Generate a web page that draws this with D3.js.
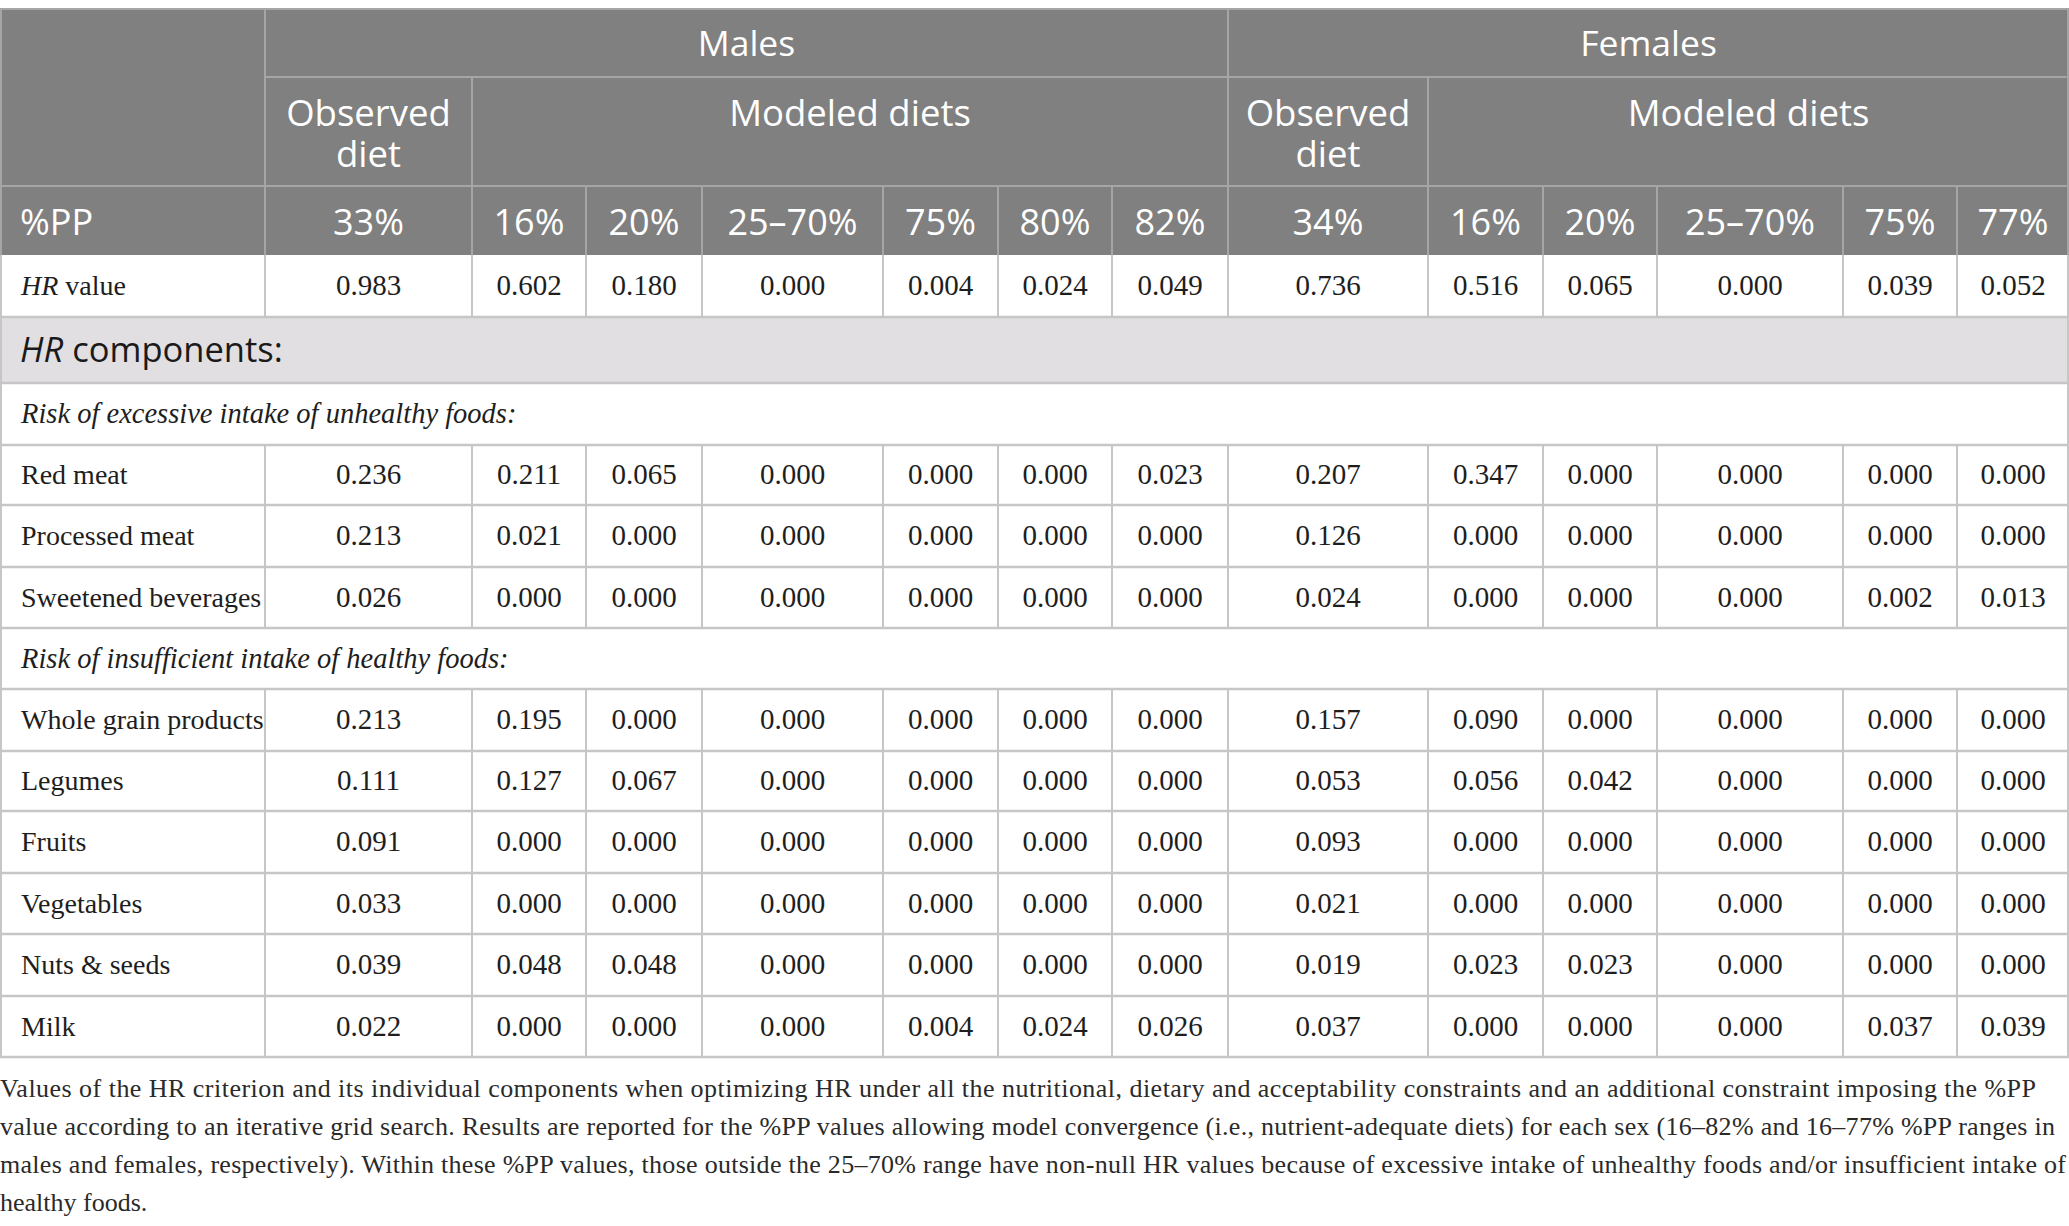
<!DOCTYPE html>
<html>
<head>
    <meta charset="utf-8">
    <title>HR values by %PP</title>
    <script src="https://d3js.org/d3.v7.min.js"></script>
    <style>
        body { margin: 0; background: #fff; }
        .head { font-family: "Open Sans", sans-serif; fill: #fff; }
        .body-text { font-family: "Liberation Serif", serif; fill: #1e1e1e; }
        .caption { font-family: "Liberation Serif", serif; fill: #2a2a2a; }
    </style>
</head>
<body>
    <div id="table"></div>
    <script>
        // 表頭
        const sexGroups = ["Males", "Females"];
        const maleCols = ["33%", "16%", "20%", "25–70%", "75%", "80%", "82%"];
        const femaleCols = ["34%", "16%", "20%", "25–70%", "75%", "77%"];

        // HR 值
        const hrValue = [0.983, 0.602, 0.180, 0.000, 0.004, 0.024, 0.049,
                         0.736, 0.516, 0.065, 0.000, 0.039, 0.052];

        // 不健康食物攝取過量
        const excessiveLabels = ["Red meat", "Processed meat", "Sweetened beverages"];
        const excessiveValues = [
            [0.236, 0.211, 0.065, 0.000, 0.000, 0.000, 0.023, 0.207, 0.347, 0.000, 0.000, 0.000, 0.000],
            [0.213, 0.021, 0.000, 0.000, 0.000, 0.000, 0.000, 0.126, 0.000, 0.000, 0.000, 0.000, 0.000],
            [0.026, 0.000, 0.000, 0.000, 0.000, 0.000, 0.000, 0.024, 0.000, 0.000, 0.000, 0.002, 0.013]
        ];

        // 健康食物攝取不足
        const insufficientLabels = ["Whole grain products", "Legumes", "Fruits", "Vegetables", "Nuts & seeds", "Milk"];
        const insufficientValues = [
            [0.213, 0.195, 0.000, 0.000, 0.000, 0.000, 0.000, 0.157, 0.090, 0.000, 0.000, 0.000, 0.000],
            [0.111, 0.127, 0.067, 0.000, 0.000, 0.000, 0.000, 0.053, 0.056, 0.042, 0.000, 0.000, 0.000],
            [0.091, 0.000, 0.000, 0.000, 0.000, 0.000, 0.000, 0.093, 0.000, 0.000, 0.000, 0.000, 0.000],
            [0.033, 0.000, 0.000, 0.000, 0.000, 0.000, 0.000, 0.021, 0.000, 0.000, 0.000, 0.000, 0.000],
            [0.039, 0.048, 0.048, 0.000, 0.000, 0.000, 0.000, 0.019, 0.023, 0.023, 0.000, 0.000, 0.000],
            [0.022, 0.000, 0.000, 0.000, 0.004, 0.024, 0.026, 0.037, 0.000, 0.000, 0.000, 0.037, 0.039]
        ];

        const captionLines = [
            "Values of the HR criterion and its individual components when optimizing HR under all the nutritional, dietary and acceptability constraints and an additional constraint imposing the %PP",
            "value according to an iterative grid search. Results are reported for the %PP values allowing model convergence (i.e., nutrient-adequate diets) for each sex (16–82% and 16–77% %PP ranges in",
            "males and females, respectively). Within these %PP values, those outside the 25–70% range have non-null HR values because of excessive intake of unhealthy foods and/or insufficient intake of",
            "healthy foods."
        ];

        const W = 2069, H = 1226;
        const headFill = "#7f807f", headLine = "#a4a5a4", bodyLine = "#c6c6c6";
        const fmt = d3.format(".3f");

        const svg = d3.select("#table").append("svg")
            .attr("width", W).attr("height", H);

        // 欄寬（相對比例）-> x 比例尺
        const colWeights = [265, 207, 114, 116, 181, 115, 114, 116, 200, 115, 114, 186, 114, 112];
        const edges = [0, ...d3.cumsum(colWeights)];
        const x = d3.scaleLinear().domain([0, d3.sum(colWeights)]).range([0, W]);
        const colX = i => x(edges[i]);
        const colMid = i => (colX(i) + colX(i + 1)) / 2;

        // 列高 -> y 比例尺
        const rowWeights = [68, 109, 69, 62, 66, 62, 60, 62, 61, 61, 62, 60, 62, 61, 62, 61];
        const rEdges = [0, ...d3.cumsum(rowWeights)];
        const y = d3.scaleLinear().domain([0, d3.sum(rowWeights)]).range([9, 1057]);
        const rowY = i => y(rEdges[i]);
        const rowMid = i => (rowY(i) + rowY(i + 1)) / 2;

        const nCols = colWeights.length;
        const ppCols = [...maleCols, ...femaleCols];

        // ---- 表頭背景 ----
        svg.append("rect")
            .attr("x", 0).attr("y", rowY(0))
            .attr("width", W).attr("height", rowY(3) - rowY(0))
            .attr("fill", headFill);

        const hLines = [
            { x1: colX(0), x2: W, y: rowY(0) },
            { x1: colX(1), x2: W, y: rowY(1) },
            { x1: colX(0), x2: W, y: rowY(2) }
        ];
        svg.selectAll(".hl").data(hLines).enter().append("line")
            .attr("x1", d => d.x1).attr("x2", d => d.x2)
            .attr("y1", d => d.y).attr("y2", d => d.y)
            .attr("stroke", headLine).attr("stroke-width", 2);

        const vLines = [
            { x: colX(0) + 1, y1: rowY(0), y2: rowY(3) },
            { x: colX(1), y1: rowY(0), y2: rowY(3) },
            { x: colX(8), y1: rowY(0), y2: rowY(3) },
            { x: colX(2), y1: rowY(1), y2: rowY(3) },
            { x: colX(9), y1: rowY(1), y2: rowY(3) },
            ...d3.range(3, nCols).filter(i => i !== 8 && i !== 9)
                .map(i => ({ x: colX(i), y1: rowY(2), y2: rowY(3) })),
            { x: W - 1, y1: rowY(0), y2: rowY(3) }
        ];
        svg.selectAll(".vl").data(vLines).enter().append("line")
            .attr("x1", d => d.x).attr("x2", d => d.x)
            .attr("y1", d => d.y1).attr("y2", d => d.y2)
            .attr("stroke", headLine).attr("stroke-width", 2);

        // 性別
        const sexSpans = [[1, 8], [8, nCols]];
        svg.selectAll(".sex").data(sexGroups).enter().append("text")
            .attr("class", "head")
            .attr("x", (d, i) => (colX(sexSpans[i][0]) + colX(sexSpans[i][1])) / 2)
            .attr("y", rowMid(0) + 13)
            .attr("text-anchor", "middle")
            .style("font-size", "35.5px")
            .text(d => d);

        // Observed diet / Modeled diets
        const dietHeads = [
            { lines: ["Observed", "diet"], a: 1, b: 2 },
            { lines: ["Modeled diets"], a: 2, b: 8 },
            { lines: ["Observed", "diet"], a: 8, b: 9 },
            { lines: ["Modeled diets"], a: 9, b: nCols }
        ];
        dietHeads.forEach(h => {
            svg.append("text")
                .attr("class", "head")
                .attr("text-anchor", "middle")
                .style("font-size", "36.5px")
                .selectAll("tspan").data(h.lines).enter().append("tspan")
                .attr("x", (colX(h.a) + colX(h.b)) / 2)
                .attr("y", (d, i) => rowY(1) + 49 + i * 41)
                .text(d => d);
        });

        // %PP 列
        svg.append("text").attr("class", "head")
            .attr("x", 20).attr("y", rowMid(2) + 14)
            .style("font-size", "36px")
            .text("%PP");
        svg.selectAll(".pp").data(ppCols).enter().append("text")
            .attr("class", "head")
            .attr("x", (d, i) => colMid(i + 1))
            .attr("y", rowMid(2) + 14)
            .attr("text-anchor", "middle")
            .style("font-size", "36px")
            .text(d => d);

        // ---- 表身 ----
        const bodyRows = [
            { type: "data", label: [["HR", true], [" value", false]], values: hrValue },
            { type: "section" },
            { type: "sub", text: "Risk of excessive intake of unhealthy foods:" },
            ...excessiveLabels.map((l, i) => ({ type: "data", label: [[l, false]], values: excessiveValues[i] })),
            { type: "sub", text: "Risk of insufficient intake of healthy foods:" },
            ...insufficientLabels.map((l, i) => ({ type: "data", label: [[l, false]], values: insufficientValues[i] }))
        ];

        bodyRows.forEach((r, k) => {
            const ri = k + 3;
            const g = svg.append("g");
            if (r.type === "section") {
                g.append("rect")
                    .attr("x", 0).attr("y", rowY(ri))
                    .attr("width", W).attr("height", rowY(ri + 1) - rowY(ri))
                    .attr("fill", "#e1dfe1");
                const t = g.append("text")
                    .attr("x", 20).attr("y", rowMid(ri) + 12)
                    .style("font-family", "'Open Sans', sans-serif")
                    .style("font-size", "34.5px")
                    .attr("fill", "#1a1a1a");
                t.append("tspan").style("font-style", "italic").text("HR");
                t.append("tspan").text(" components:");
            } else if (r.type === "sub") {
                g.append("text").attr("class", "body-text")
                    .attr("x", 21).attr("y", rowMid(ri) + 9)
                    .style("font-size", "28.5px")
                    .style("font-style", "italic")
                    .text(r.text);
            } else {
                const t = g.append("text").attr("class", "body-text")
                    .attr("x", 21).attr("y", rowMid(ri) + 9)
                    .style("font-size", "28px");
                t.selectAll("tspan").data(r.label).enter().append("tspan")
                    .style("font-style", d => d[1] ? "italic" : "normal")
                    .text(d => d[0]);
                g.selectAll(".v").data(r.values).enter().append("text")
                    .attr("class", "body-text")
                    .attr("x", (d, i) => colMid(i + 1))
                    .attr("y", rowMid(ri) + 9)
                    .attr("text-anchor", "middle")
                    .style("font-size", "29px")
                    .text(d => fmt(d));
                g.selectAll(".vd").data(d3.range(1, nCols)).enter().append("line")
                    .attr("x1", i => colX(i)).attr("x2", i => colX(i))
                    .attr("y1", rowY(ri)).attr("y2", rowY(ri + 1))
                    .attr("stroke", bodyLine).attr("stroke-width", 2);
            }
        });

        // 水平格線
        svg.selectAll(".bh").data(d3.range(4, rowWeights.length + 1)).enter().append("line")
            .attr("x1", 0).attr("x2", W)
            .attr("y1", i => rowY(i)).attr("y2", i => rowY(i))
            .attr("stroke", bodyLine).attr("stroke-width", 2.5);

        // 外框
        [1, W - 1].forEach(xx => {
            svg.append("line")
                .attr("x1", xx).attr("x2", xx)
                .attr("y1", rowY(3)).attr("y2", rowY(rowWeights.length))
                .attr("stroke", bodyLine).attr("stroke-width", 2);
        });

        // ---- 註解 ----
        const capLengths = [2036, 2055, 2066, null];
        svg.selectAll(".cap").data(captionLines).enter().append("text")
            .attr("class", "caption")
            .attr("x", 0)
            .attr("y", (d, i) => 1097 + i * 38)
            .style("font-size", "26px")
            .attr("textLength", (d, i) => capLengths[i])
            .attr("lengthAdjust", "spacing")
            .text(d => d);
    </script>
</body>
</html>
